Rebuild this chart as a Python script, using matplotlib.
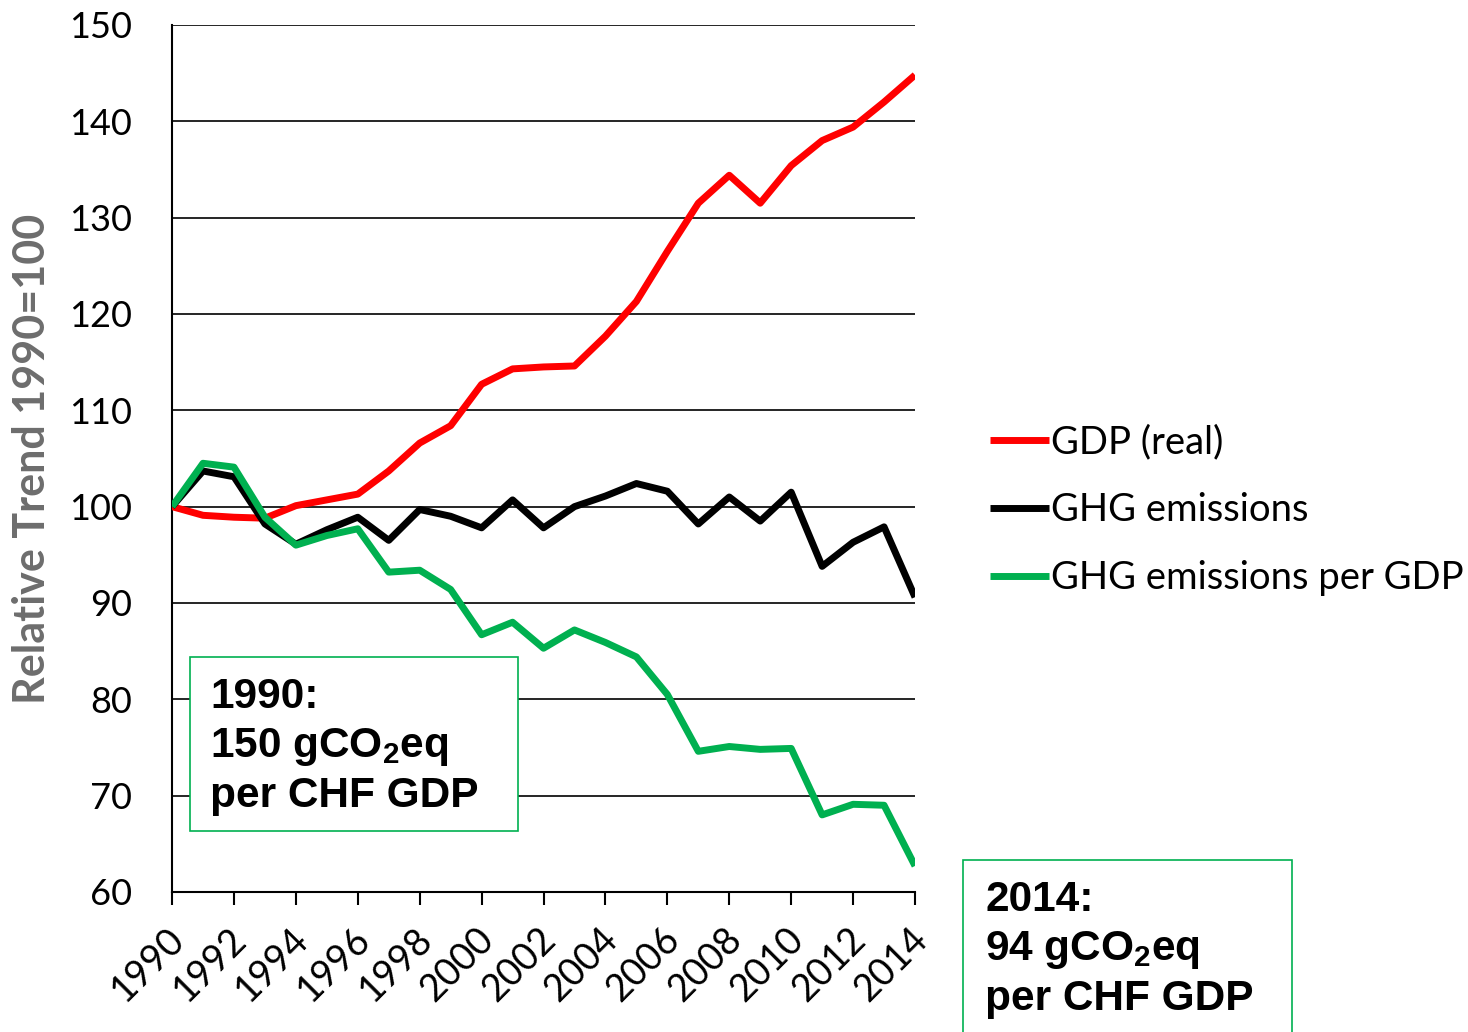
import numpy as np
import matplotlib
matplotlib.use('Agg')
import matplotlib.pyplot as plt
import matplotlib.transforms as mtransforms
from matplotlib.patches import Rectangle

plt.rcParams['font.family'] = ['Lato', 'DejaVu Sans']
plt.rcParams['mathtext.fontset'] = 'custom'
plt.rcParams['mathtext.rm'] = 'Liberation Sans'
plt.rcParams['mathtext.bf'] = 'Liberation Sans:bold'

# Dados
anos = list(range(1990, 2015))
gdp = [100, 99.1, 98.9, 98.8, 100.1, 100.7, 101.3, 103.7, 106.6, 108.4, 112.7,
       114.3, 114.5, 114.6, 117.7, 121.3, 126.5, 131.5, 134.4, 131.5, 135.4,
       138.0, 139.4, 142.0, 144.8]
ghg = [100, 103.7, 103.1, 98.2, 96.1, 97.6, 98.9, 96.5, 99.7, 99.0, 97.8,
       100.7, 97.8, 100.0, 101.1, 102.4, 101.6, 98.2, 101.0, 98.5, 101.5,
       93.8, 96.3, 97.9, 90.6]
ghg_gdp = [100, 104.5, 104.1, 98.9, 96.0, 97.0, 97.7, 93.2, 93.4, 91.4, 86.7,
           88.0, 85.3, 87.2, 85.9, 84.4, 80.5, 74.6, 75.1, 74.8, 74.9,
           68.0, 69.1, 69.0, 62.7]
rotulos = ['GDP (real)', 'GHG emissions', 'GHG emissions per GDP']
cores = ['#ff0000', '#000000', '#00b050']

fig = plt.figure(figsize=(14.68, 10.32), dpi=100)
ax = fig.add_axes([0.1172, 0.1357, 0.5061, 0.8401])

for serie, cor, leg in zip([gdp, ghg, ghg_gdp], cores, rotulos):
    ax.plot(anos, serie, color=cor, lw=5, label=leg, solid_capstyle='butt', zorder=3)

ax.set_xlim(1990, 2014)
ax.set_ylim(60, 150)
ax.set_yticks(range(60, 151, 10))
ax.set_xticks(range(1990, 2015, 2))
ax.yaxis.grid(True, color='black', lw=1.2)
ax.set_axisbelow(True)
for s in ['top', 'right']:
    ax.spines[s].set_visible(False)
ax.spines['left'].set_linewidth(1.5)
ax.spines['bottom'].set_linewidth(1.5)
ax.tick_params(axis='y', length=0, labelsize=26, pad=29)
ax.tick_params(axis='x', length=9, width=1.5, labelsize=27, direction='out', pad=12)
desloc = mtransforms.ScaledTranslation(-0.06, 0, fig.dpi_scale_trans)
for lbl in ax.get_xticklabels():
    lbl.set_rotation(45)
    lbl.set_horizontalalignment('right')
    lbl.set_rotation_mode('anchor')
    lbl.set_transform(lbl.get_transform() + desloc)
ax.set_ylabel('Relative Trend 1990=100', fontsize=31, fontweight='bold',
              color='#6d6d6d')
ax.yaxis.set_label_coords(-0.162, 0.5)

fig.legend(*ax.get_legend_handles_labels(), loc='center left',
           bbox_to_anchor=(990/1468, 1-510/1032), frameon=False, borderpad=0,
           borderaxespad=0, fontsize=27.5, handlelength=1.55, handletextpad=0.05,
           labelspacing=0.84)

# Caixas de texto
txt1 = '1990:\n150 gCO$_\\mathbf{2}$eq\nper CHF GDP'
txt2 = '2014:\n94 gCO$_\\mathbf{2}$eq\nper CHF GDP'
fig.patches.append(Rectangle((190/1468, 1-831/1032), 328/1468, 174/1032,
                             transform=fig.transFigure, facecolor='white',
                             edgecolor='#00b050', lw=1.2))
fig.patches.append(Rectangle((963/1468, -0.01), 329/1468, 1-860/1032+0.01,
                             transform=fig.transFigure, facecolor='white',
                             edgecolor='#00b050', lw=1.2))
fig.text(210/1468, 1-677/1032, txt1, fontsize=30.5, fontweight='bold', va='top',
         family='Liberation Sans', linespacing=1.28)
fig.text(985/1468, 1-880/1032, txt2, fontsize=30.5, fontweight='bold', va='top',
         family='Liberation Sans', linespacing=1.28)

fig.savefig('out.png', dpi=100)
